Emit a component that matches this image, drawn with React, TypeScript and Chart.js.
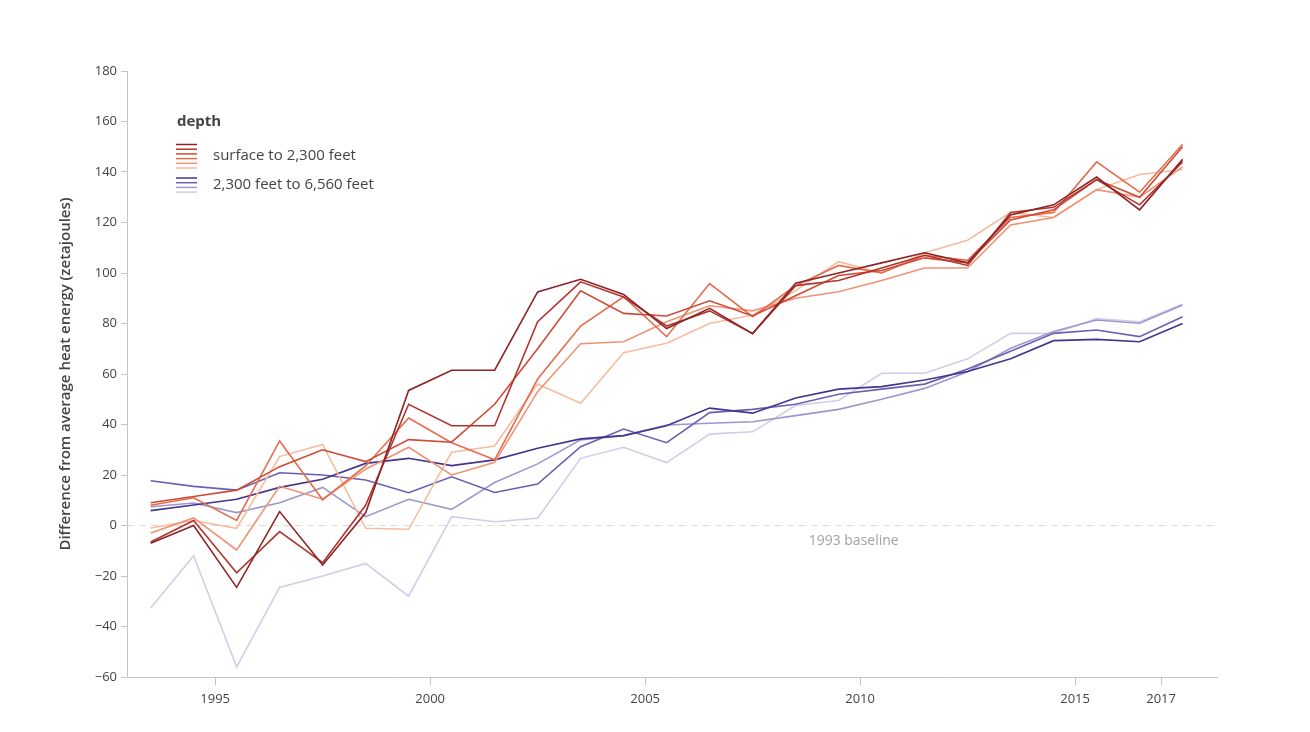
import React, { useEffect, useRef } from "react";
import { Chart, registerables } from "chart.js";
Chart.register(...registerables);

// x positions (mid-year of each annual value)
const years = [1993.5, 1994.5, 1995.5, 1996.5, 1997.5, 1998.5, 1999.5, 2000.5, 2001.5, 2002.5, 2003.5, 2004.5, 2005.5, 2006.5, 2007.5, 2008.5, 2009.5, 2010.5, 2011.5, 2012.5, 2013.5, 2014.5, 2015.5, 2016.5, 2017.5];

// surface to 2,300 feet (six estimates)
const surfaceA = [-7, 0, -24.5, 5.5, -15.6, 5, 53.5, 61.5, 61.5, 92.5, 97.5, 91.5, 78, 86, 76, 96, 100, 104, 108, 104, 123, 127, 138, 125, 145];
const surfaceB = [-6.5, 2, -18.7, -2.4, -14.7, 8, 48, 39.5, 39.5, 80.7, 96.5, 90.5, 79, 85, 76, 95, 97, 102, 107, 103, 124, 126, 137, 127, 144];
const surfaceC = [9, 11.5, 14, 23.3, 30, 25.3, 34, 33, 48, 70, 93, 84, 83, 89, 83, 91, 99, 101, 106, 104, 121, 125, 137, 130, 150];
const surfaceD = [8, 11, 2, 33.5, 10.2, 23.6, 42.6, 32.8, 26, 58, 79, 90.6, 74.8, 95.8, 82.7, 95, 103, 100, 107, 105, 122, 124, 144, 132, 151];
const surfaceE = [-3, 3, -9.7, 15.6, 10.4, 22.3, 31, 20, 25, 53, 72, 72.8, 80.7, 87, 85, 90, 92.6, 97, 102, 102, 119, 122, 133, 130, 142];
const surfaceF = [-1, 2, -1.1, 27.3, 32.1, -1.1, -1.5, 29, 31.5, 56, 48.4, 68.4, 72.2, 80, 83.4, 93, 104.5, 100, 108, 113, 124, 122, 133, 139, 141];

// 2,300 feet to 6,560 feet (four estimates)
const deepG = [5.9, 8.1, 10.4, 15.1, 18.3, 24.6, 26.6, 23.7, 26, 30.6, 34.3, 35.6, 39.5, 46.5, 44.5, 50.5, 54, 55, 57.6, 61, 66, 73.2, 73.7, 72.8, 80];
const deepH = [17.7, 15.5, 14, 20.9, 20, 18, 13, 19.3, 13.1, 16.4, 31.2, 38.2, 32.8, 44.7, 46, 48, 52, 54, 56, 62, 69, 76.1, 77.4, 74.8, 82.7];
const deepI = [7.4, 8.9, 5.1, 9, 15.1, 3.5, 10.4, 6.4, 17, 24.4, 33.9, 35.6, 39.8, 40.5, 41.1, 43.5, 46, 50, 54.3, 60.9, 70.2, 76.8, 81.4, 80.1, 87.3];
const deepJ = [-32.7, -12, -56, -24.5, -20, -15, -28, 3.5, 1.5, 2.9, 26.6, 31, 24.9, 36.2, 37.1, 47.5, 49.5, 60.3, 60.3, 66, 76.1, 76.1, 82, 80.7, 87.7];

const surfaceSeries = [surfaceA, surfaceB, surfaceC, surfaceD, surfaceE, surfaceF];
const deepSeries = [deepG, deepH, deepI, deepJ];

const surfaceColors = ["#8e2325", "#b2342e", "#cf4a36", "#e46c4d", "#f09274", "#f6bc9e"];
const deepColors = ["#43358e", "#6a60b1", "#9d97cd", "#d0cee6"];

const xTicks = [1995, 2000, 2005, 2010, 2015, 2017];
const yTicks = [-60, -40, -20, 0, 20, 40, 60, 80, 100, 120, 140, 160, 180];

const yTitle = "Difference from average heat energy (zetajoules)";
const legendTitle = "depth";
const legendLabels = ["surface to 2,300 feet", "2,300 feet to 6,560 feet"];
const baselineLabel = "1993 baseline";

const FONT = "'Open Sans', 'Noto Sans', sans-serif";

export default function App() {
  const ref = useRef<HTMLCanvasElement>(null);

  useEffect(() => {
    if (!ref.current) return;

    const datasets: any[] = [];
    surfaceSeries.forEach((s, i) => {
      datasets.push({
        label: `surface-${i}`,
        data: s.map((v, j) => ({ x: years[j], y: v })),
        borderColor: surfaceColors[i],
        borderWidth: 1.6,
        pointRadius: 0,
        tension: 0,
        fill: false,
      });
    });
    deepSeries.forEach((s, i) => {
      datasets.push({
        label: `deep-${i}`,
        data: s.map((v, j) => ({ x: years[j], y: v })),
        borderColor: deepColors[i],
        borderWidth: 1.6,
        pointRadius: 0,
        tension: 0,
        fill: false,
      });
    });

    const baselinePlugin = {
      id: "baseline",
      beforeDatasetsDraw(chart: any) {
        const { ctx, chartArea, scales } = chart;
        const y0 = scales.y.getPixelForValue(0);
        ctx.save();
        ctx.strokeStyle = "#dcdcdc";
        ctx.lineWidth = 1;
        ctx.setLineDash([7, 5]);
        ctx.beginPath();
        ctx.moveTo(chartArea.left, y0);
        ctx.lineTo(chartArea.right, y0);
        ctx.stroke();
        ctx.setLineDash([]);
        ctx.fillStyle = "#a3a3a3";
        ctx.font = `14px ${FONT}`;
        ctx.textAlign = "center";
        ctx.textBaseline = "middle";
        ctx.fillText(baselineLabel, scales.x.getPixelForValue(2009.85), y0 + 16);
        ctx.restore();
      },
    };

    const legendPlugin = {
      id: "customLegend",
      afterDraw(chart: any) {
        const { ctx } = chart;
        ctx.save();
        ctx.fillStyle = "#444";
        ctx.font = `bold 15px ${FONT}`;
        ctx.textAlign = "left";
        ctx.textBaseline = "middle";
        ctx.fillText(legendTitle, 177, 122);
        ctx.lineWidth = 1.5;
        surfaceColors.forEach((c, i) => {
          const y = 144.5 + i * 4.7;
          ctx.strokeStyle = c;
          ctx.beginPath();
          ctx.moveTo(176, y);
          ctx.lineTo(197, y);
          ctx.stroke();
        });
        deepColors.forEach((c, i) => {
          const y = 178 + i * 4.7;
          ctx.strokeStyle = c;
          ctx.beginPath();
          ctx.moveTo(176, y);
          ctx.lineTo(197, y);
          ctx.stroke();
        });
        ctx.font = `15px ${FONT}`;
        ctx.fillStyle = "#444";
        ctx.fillText(legendLabels[0], 213, 156);
        ctx.fillText(legendLabels[1], 213, 185);
        ctx.restore();
      },
    };

    const chart = new Chart(ref.current, {
      type: "line",
      data: { datasets },
      options: {
        animation: false,
        responsive: false,
        maintainAspectRatio: false,
        layout: { padding: { top: 71, right: 93, left: 0, bottom: 0 } },
        plugins: {
          legend: { display: false },
          tooltip: { enabled: false },
          title: { display: false },
        },
        scales: {
          x: {
            type: "linear",
            min: 1992.95,
            max: 2018.3,
            afterBuildTicks: (scale: any) => {
              scale.ticks = xTicks.map((v) => ({ value: v }));
            },
            afterFit: (scale: any) => {
              scale.height = 55;
            },
            ticks: {
              autoSkip: false,
              maxRotation: 0,
              padding: 6,
              color: "#444",
              font: { family: FONT, size: 13 },
              callback: (v: any) => String(v),
            },
            grid: {
              display: true,
              drawOnChartArea: false,
              drawTicks: true,
              tickLength: 8,
              color: "#c4c4c4",
            },
            border: { display: true, color: "#c4c4c4" },
          },
          y: {
            type: "linear",
            min: -60,
            max: 180,
            afterBuildTicks: (scale: any) => {
              scale.ticks = yTicks.map((v) => ({ value: v }));
            },
            afterFit: (scale: any) => {
              scale.width = 127;
            },
            ticks: {
              autoSkip: false,
              padding: 4,
              color: "#444",
              font: { family: FONT, size: 13 },
              callback: (v: any) => String(v).replace("-", "\u2212"),
            },
            grid: {
              display: true,
              drawOnChartArea: false,
              drawTicks: true,
              tickLength: 6,
              color: "#c4c4c4",
            },
            border: { display: true, color: "#c4c4c4" },
            title: {
              display: true,
              text: yTitle,
              color: "#444",
              font: { family: FONT, size: 15, weight: "600" },
              padding: { top: 57, bottom: 0 },
            },
          },
        },
      },
      plugins: [baselinePlugin, legendPlugin],
    });

    return () => chart.destroy();
  }, []);

  return (
    <div style={{ position: "fixed", left: 0, top: 0, width: 1310, height: 732, background: "#fff" }}>
      <canvas ref={ref} width={1310} height={732} style={{ display: "block" }} />
    </div>
  );
}
